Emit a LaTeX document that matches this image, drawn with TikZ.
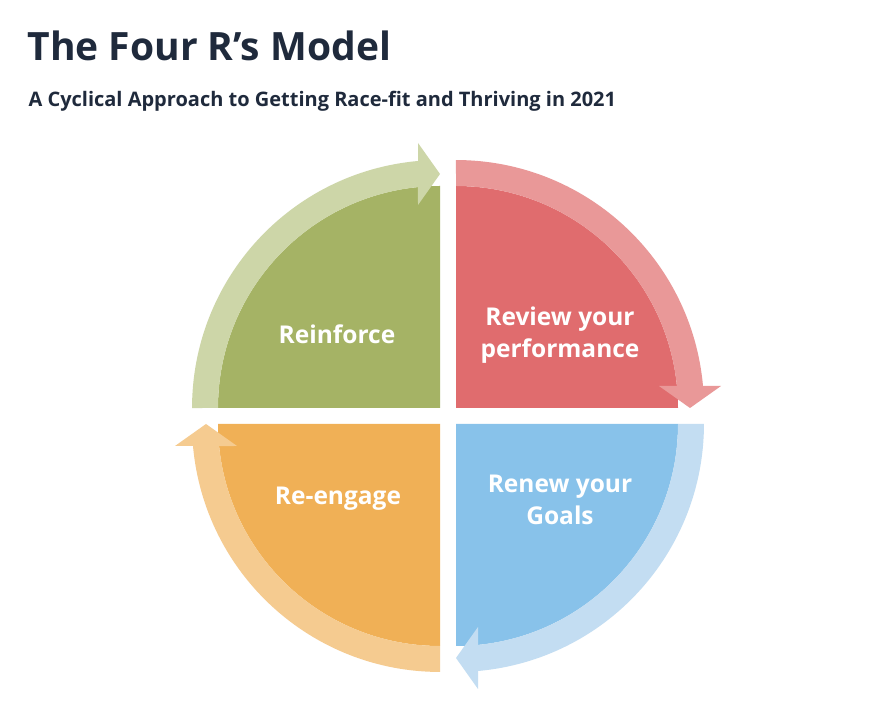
\documentclass[tikz,border=0pt]{standalone}
\usepackage{fontspec}
\setmainfont{Open Sans}
\definecolor{gD}{RGB}{165,179,101}\definecolor{gL}{RGB}{205,214,168}
\definecolor{rD}{RGB}{224,108,110}\definecolor{rL}{RGB}{233,152,152}
\definecolor{bD}{RGB}{136,194,234}\definecolor{bL}{RGB}{195,221,242}
\definecolor{oD}{RGB}{240,176,86}\definecolor{oL}{RGB}{245,203,144}
\definecolor{navy}{RGB}{31,42,60}
\tikzset{lbl/.style={text=white,font=\bfseries\fontsize{24.5}{32}\selectfont,align=center}}
\newcommand{\quadr}[4]{%
\begin{scope}[shift={#1},rotate=#2]
\fill[#3] (0,0) -- (90:222) arc[start angle=90,end angle=180,radius=222] -- cycle;
\fill[#4] (180:222) arc[start angle=180,end angle=95.7,radius=222] -- (-22,203) -- (0,234) -- (-22,265) -- (-22,247) arc[start angle=95.1,end angle=180,radius=248] -- cycle;
\end{scope}}
\begin{document}
\begin{tikzpicture}[x=1pt,y=1pt]
\useasboundingbox (0,0) rectangle (886,703);
\fill[white] (0,0) rectangle (886,703);
\node[anchor=west,text=navy,font=\bfseries\fontsize{39}{44}\selectfont] (title) at (24,657) {The Four R’s Model};
\node[anchor=west,text=navy,font=\bfseries\fontsize{20}{24}\selectfont] (sub) at (25,602) {A Cyclical Approach to Getting Race-fit and Thriving in 2021};
\quadr{(440,295)}{0}{gD}{gL}
\quadr{(456,295)}{-90}{rD}{rL}
\quadr{(456,279)}{-180}{bD}{bL}
\quadr{(440,279)}{90}{oD}{oL}
\node[lbl] (n1) at (337,369) {Reinforce};
\node[lbl] (n2) at (560,368) {Review your\\performance};
\node[lbl] (n3) at (560,203) {Renew your\\Goals};
\node[lbl] (n4) at (338,204) {Re-engage};
\end{tikzpicture}
\end{document}
